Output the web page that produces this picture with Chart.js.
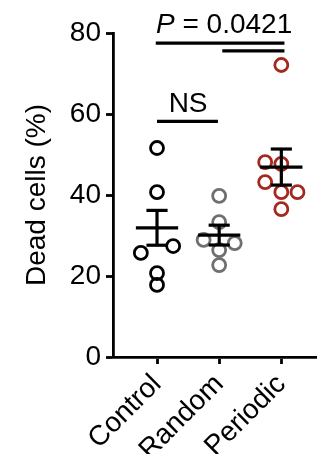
<!DOCTYPE html>
<html lang="en">
<head>
  <meta charset="UTF-8">
  <title>Dead cells</title>
  <style>
    body { margin: 0; background: #fff; }
    #chart { display: block; }
  </style>
  <script src="https://cdn.jsdelivr.net/npm/chart.js"></script>
</head>
<body>
  <canvas id="chart" width="326" height="454"></canvas>

  <script>
    const categories = ["Control", "Random", "Periodic"];

    // individual measurements (x = group position incl. jitter, y = % dead cells)
    const controlX = [1, 1, 1.26, 0.74, 1, 1];
    const controlY = [51.6, 40.7, 27.4, 25.7, 20.7, 17.8];
    const randomX = [2, 2, 1.75, 2.25, 2, 2];
    const randomY = [39.8, 33.3, 28.9, 28.1, 26.4, 22.7];
    const periodicX = [3, 2.74, 3, 2.74, 3, 3.26, 3];
    const periodicY = [72.1, 48.1, 47.7, 43.2, 40.7, 40.7, 36.5];

    // mean +/- SEM
    const means = [31.9, 30.1, 46.9];
    const sems = [4.3, 2.45, 4.45];

    const yTicks = [0, 20, 40, 60, 80];

    const colors = ["#000000", "#6f6f6f", "#a4281f"];
    const FONT = "'Liberation Sans', Arial, sans-serif";
    const FS = 28;

    function toPoints(xs, ys) {
      return xs.map((x, i) => ({ x: x, y: ys[i] }));
    }

    const groups = [toPoints(controlX, controlY), toPoints(randomX, randomY), toPoints(periodicX, periodicY)];

    const statsPlugin = {
      id: "stats",
      afterDraw(chart) {
        const ctx = chart.ctx;
        const xs = chart.scales.x, ys = chart.scales.y;
        ctx.save();
        ctx.strokeStyle = "#000";
        ctx.lineWidth = 3.2;
        ctx.lineCap = "butt";
        function seg(x1, y1, x2, y2) {
          ctx.beginPath();
          ctx.moveTo(xs.getPixelForValue(x1), ys.getPixelForValue(y1));
          ctx.lineTo(xs.getPixelForValue(x2), ys.getPixelForValue(y2));
          ctx.stroke();
        }
        means.forEach((m, i) => {
          const c = i + 1;
          seg(c - 0.34, m, c + 0.34, m);
          seg(c, m - sems[i], c, m + sems[i]);
          seg(c - 0.17, m + sems[i], c + 0.17, m + sems[i]);
          seg(c - 0.17, m - sems[i], c + 0.17, m - sems[i]);
        });

        // significance bars
        seg(0.98, 77.5, 3.05, 77.5);
        seg(2.05, 75.6, 3.05, 75.6);
        seg(1.0, 58.2, 1.98, 58.2);

        ctx.fillStyle = "#000";
        ctx.textAlign = "center";
        ctx.textBaseline = "alphabetic";
        ctx.font = FS + "px " + FONT;
        ctx.fillText("NS", xs.getPixelForValue(1.5), ys.getPixelForValue(60.6));

        // P = 0.0421 with italic P
        const px = xs.getPixelForValue(2.08), py = ys.getPixelForValue(79.9);
        ctx.font = "italic " + FS + "px " + FONT;
        const wP = ctx.measureText("P").width;
        ctx.font = FS + "px " + FONT;
        const rest = " = 0.0421";
        const wR = ctx.measureText(rest).width;
        const x0 = px - (wP + wR) / 2;
        ctx.textAlign = "left";
        ctx.font = "italic " + FS + "px " + FONT;
        ctx.fillText("P", x0, py);
        ctx.font = FS + "px " + FONT;
        ctx.fillText(rest, x0 + wP, py);
        ctx.restore();
      }
    };

    new Chart(document.getElementById("chart"), {
      type: "scatter",
      data: {
        datasets: groups.map((pts, i) => ({
          label: categories[i],
          data: pts,
          pointRadius: 6.5,
          pointHoverRadius: 6.5,
          pointBorderWidth: 2.8,
          pointBackgroundColor: "rgba(255,255,255,0)",
          pointBorderColor: colors[i],
          borderColor: colors[i]
        }))
      },
      options: {
        responsive: false,
        animation: false,
        layout: { padding: { top: 33, right: 0, bottom: 0, left: 0 } },
        plugins: {
          legend: { display: false },
          tooltip: { enabled: false }
        },
        scales: {
          x: {
            type: "linear",
            min: 0.292,
            max: 3.569,
            afterBuildTicks: (scale) => {
              scale.ticks = categories.map((c, i) => ({ value: i + 1 }));
            },
            afterFit: (scale) => { scale.height = 97; },
            ticks: {
              minRotation: 45,
              maxRotation: 45,
              color: "#000",
              padding: 4,
              font: { family: FONT, size: FS },
              callback: (v) => categories[v - 1]
            },
            grid: {
              drawOnChartArea: false,
              drawTicks: true,
              tickLength: 7,
              tickColor: "#000",
              tickWidth: 2.8
            },
            border: { display: true, color: "#000", width: 2.8 }
          },
          y: {
            min: 0,
            max: 80,
            afterBuildTicks: (scale) => {
              scale.ticks = yTicks.map(v => ({ value: v }));
            },
            afterFit: (scale) => { scale.width = 113; },
            ticks: {
              color: "#000",
              padding: 5,
              font: { family: FONT, size: FS }
            },
            grid: {
              drawOnChartArea: false,
              drawTicks: true,
              tickLength: 7,
              tickColor: "#000",
              tickWidth: 2.8
            },
            border: { display: true, color: "#000", width: 2.8 },
            title: {
              display: true,
              text: "Dead cells (%)",
              color: "#000",
              font: { family: FONT, size: FS },
              padding: { top: 20, bottom: 0 }
            }
          }
        }
      },
      plugins: [statsPlugin]
    });
  </script>
</body>
</html>
